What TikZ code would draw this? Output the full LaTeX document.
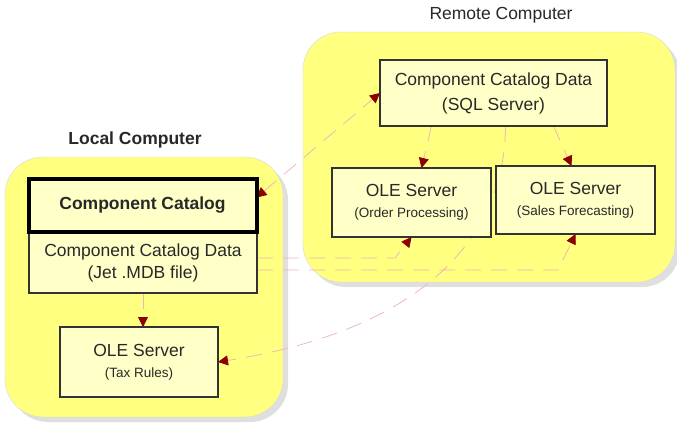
\documentclass[tikz,border=0pt]{standalone}
\usepackage{fontspec}
\setmainfont{Liberation Sans}
\usetikzlibrary{arrows.meta}
\pgfdeclarelayer{hosts}
\pgfdeclarelayer{links}
\pgfsetlayers{hosts,links,main}
\definecolor{hostyellow}{RGB}{255,255,128}
\definecolor{boxyellow}{RGB}{255,255,200}
\definecolor{linkpink}{RGB}{236,180,190}
\definecolor{tipred}{RGB}{140,0,0}
\definecolor{textgray}{RGB}{40,40,40}
\newcommand{\detail}[1]{{\fontsize{13.5}{16}\selectfont #1}}
\begin{document}
\begin{tikzpicture}[x=1pt, y=-1pt,
	>={Triangle[length=10pt, width=10pt, color=tipred]},
	box/.style={draw=black!80, line width=1.2pt, fill=boxyellow, inner sep=0pt, outer sep=0pt, align=center, text=textgray, font=\fontsize{17.5}{23}\selectfont},
	host/.style={fill=hostyellow, draw=gray!30, rounded corners=38pt},
	link/.style={draw=linkpink, line width=0.75pt, dash pattern=on 16pt off 10pt},
	title/.style={text=textgray, font=\fontsize{17.5}{23}\selectfont}]
	\useasboundingbox (0,0) rectangle (677,423);
	\begin{pgfonlayer}{hosts}
		\foreach \xa/\ya/\xb/\yb in {5/157/283/417, 303/32/675/282} {
			\fill[gray!25, rounded corners=38pt] (\xa+5,\ya+5) rectangle (\xb+5,\yb+5);
			\filldraw[host] (\xa,\ya) rectangle (\xb,\yb);
		}
	\end{pgfonlayer}
	\node[title] (remotetitle) at (501,15) {Remote Computer};
	\node[title, font=\fontsize{17.5}{23}\selectfont\bfseries] (localtitle) at (135,140) {Local Computer};
	% remote computer
	\node[box, minimum width=227, minimum height=66] (sqldata) at (493.5,93) {Component Catalog Data\\[2pt](SQL Server)};
	\node[box, minimum width=159, minimum height=69] (orderole) at (411.5,202.5) {OLE Server\\[-2pt]\detail{(Order Processing)}};
	\node[box, minimum width=159, minimum height=68] (salesole) at (575.5,200) {OLE Server\\[-2pt]\detail{(Sales Forecasting)}};
	% local computer
	\node[box, minimum width=228, minimum height=60] (jetdata) at (143,263) {Component Catalog Data\\[-1pt](Jet .MDB file)};
	\node[box, draw=black, line width=4pt, minimum width=228, minimum height=53, font=\fontsize{17.5}{23}\selectfont\bfseries] (catalog) at (142.5,205.5) {Component Catalog};
	\node[box, minimum width=158, minimum height=70] (taxole) at (139,362) {OLE Server\\[-2pt]\detail{(Tax Rules)}};
	\begin{pgfonlayer}{links}
		\draw[link, <->] ([yshift=8pt]catalog.east) -- (sqldata.west);
		\draw[link, ->] ([xshift=-62pt]sqldata.south) -- ([xshift=10pt]orderole.north);
		\draw[link, ->] ([xshift=60pt]sqldata.south) -- ([xshift=-4pt]salesole.north);
		\draw[link, ->] ([yshift=5pt]jetdata.east) -- ++(138,0) -- (orderole.south);
		\draw[link, ->] ([yshift=-7pt]jetdata.east) -- ++(301,0) -- (salesole.south);
		\draw[link, ->] (jetdata.south) -- (jetdata.south |- taxole.north);
		\draw[link, ->] ([xshift=12pt]sqldata.south) .. controls (505,240) and (420,330) .. (taxole.east);
	\end{pgfonlayer}
\end{tikzpicture}
\end{document}
